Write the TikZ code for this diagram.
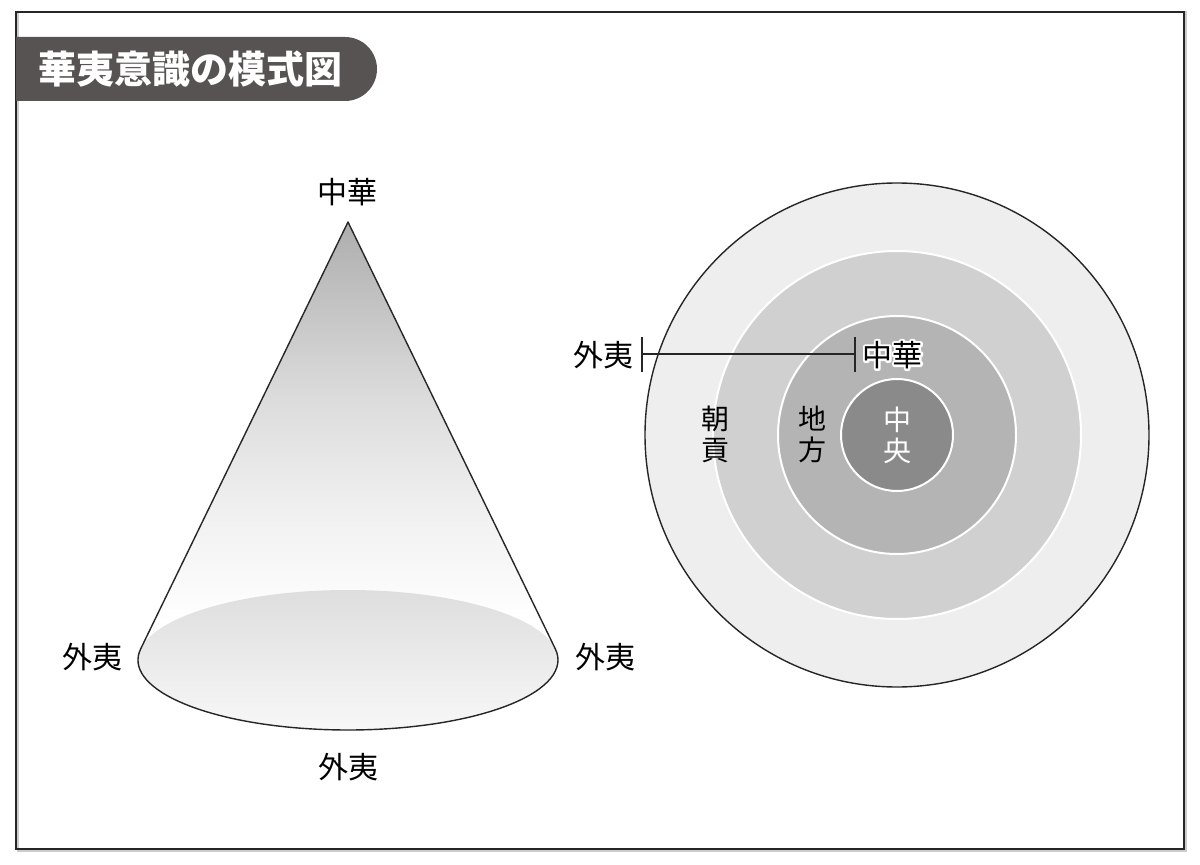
\documentclass[tikz,border=0pt]{standalone}
\usepackage{fontspec}
\newfontfamily\jp{Noto Sans CJK JP}
\usetikzlibrary{calc}
\pgfdeclareverticalshading{conesh}{100bp}{color(0bp)=(white); color(36bp)=(white); color(47bp)=(black!6); color(58bp)=(black!14); color(75bp)=(black!32); color(100bp)=(black!32)}
\pgfdeclareverticalshading{basesh}{100bp}{color(0bp)=(black!3); color(25bp)=(black!3); color(75bp)=(black!13); color(100bp)=(black!13)}
\definecolor{titlebg}{HTML}{575353}
\definecolor{ringA}{HTML}{EEEEEE}
\definecolor{ringB}{HTML}{D0D0D0}
\definecolor{ringC}{HTML}{B4B4B4}
\definecolor{ringD}{HTML}{8A8A8A}
\newcommand\myhalo[1]{\rlap{\special{pdf:code q 2 Tr 2.2 w 1 J 1 j 1 1 1 RG 1 1 1 rg}#1\special{pdf:code Q}}#1}
\begin{document}
\begin{tikzpicture}[x=0.5pt,y=0.5pt,
  lbl/.style={font=\jp\fontsize{15}{16}\selectfont, inner sep=0pt},
  vlbl/.style={font=\jp\fontsize{14}{15.5}\selectfont, inner sep=0pt, align=center},
  ringline/.style={white, line width=1pt}]
\useasboundingbox (0,0) rectangle (1200,864);
% frame
\draw[black!20, line width=1pt] (17.5,13.5) rectangle (1185.5,851.5);
\draw[black!85, line width=0.75pt] (16,15) rectangle (1184,852);
% title
\fill[titlebg] (16,763) -- (345,763) arc(-90:90:32) -- (16,827) -- cycle;
\node[font=\jp\bfseries\fontsize{19}{20}\selectfont, text=white, anchor=west, inner sep=0pt] (title) at (38,795) {華夷意識の模式図};
% cone
\coordinate (apex) at (348,642);
\coordinate (bc) at (348,204);
\path[shading=conesh] (apex) -- ($(bc)+(170.8:210 and 70)$) arc[start angle=170.8, end angle=369.2, x radius=210, y radius=70] -- cycle;
\path[shading=basesh] (bc) ellipse[x radius=210, y radius=70];
\draw[black!85, line width=0.7pt, line join=round] (apex) -- ($(bc)+(170.8:210 and 70)$) arc[start angle=170.8, end angle=369.2, x radius=210, y radius=70] -- cycle;
\node[lbl] (topL) at (347,672) {中華};
\node[lbl] (leftL) at (92,207) {外夷};
\node[lbl] (rightL) at (605,207) {外夷};
\node[lbl] (botL) at (348,97) {外夷};
% circles
\coordinate (cc) at (897,429);
\fill[ringA] (cc) circle[radius=252];
\fill[ringB] (cc) circle[radius=184];
\fill[ringC] (cc) circle[radius=119];
\fill[ringD] (cc) circle[radius=56];
\draw[ringline] (cc) circle[radius=184];
\draw[ringline] (cc) circle[radius=119];
\draw[ringline] (cc) circle[radius=56];
\draw[black!85, line width=0.7pt] (cc) circle[radius=252];
% bracket
\coordinate (bl) at (642,510);
\coordinate (br) at (855,510);
\draw[black!85, line width=0.6pt] (642,527) -- (642,492);
\draw[black!85, line width=0.6pt] (855,527) -- (855,492);
\draw[black!85, line width=0.6pt] (bl) -- (br);
\node[lbl, anchor=east] (wai) at (634,509) {外夷};
\node[lbl, anchor=west] (chuka) at (862,509) {\myhalo{中華}};
\node[vlbl] (choko) at (715,430) {朝\\貢};
\node[vlbl] (chiho) at (812,430) {地\\方};
\node[vlbl, text=white] (chuo) at (897,429) {中\\央};
\end{tikzpicture}
\end{document}
